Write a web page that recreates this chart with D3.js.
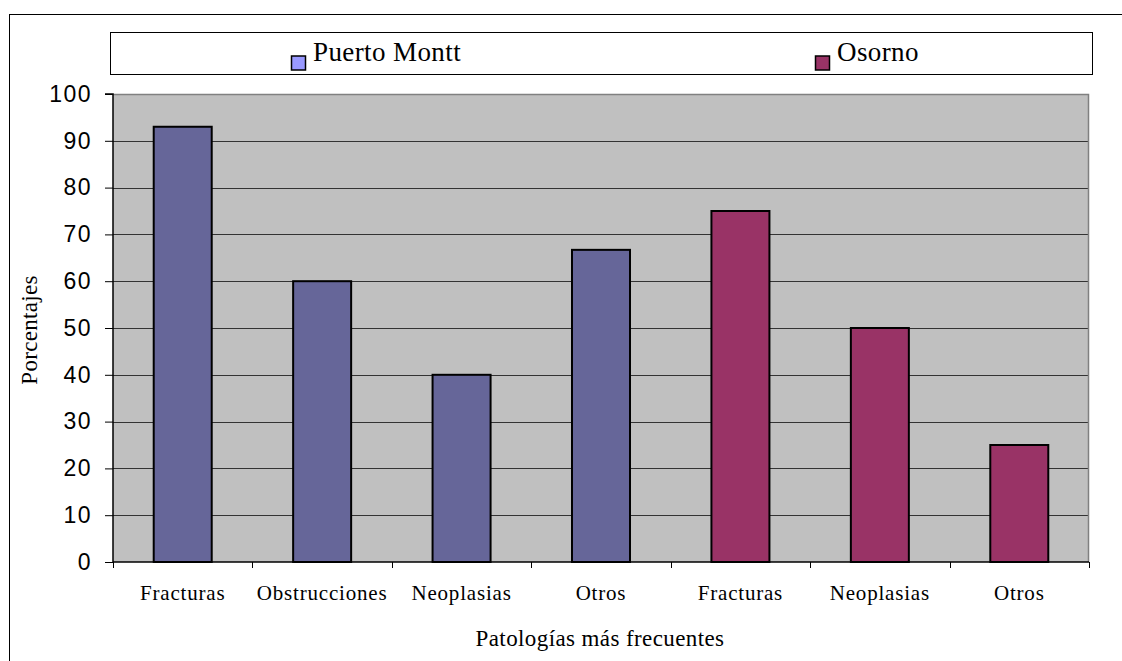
<!DOCTYPE html>
<html>
<head>
<meta charset="utf-8">
<script src="https://cdn.jsdelivr.net/npm/d3@7"></script>
<style>
  html, body { margin: 0; padding: 0; background: #fff; }
  svg { display: block; }
</style>
</head>
<body>
<svg id="chart" width="1122" height="661"></svg>
<script>
// Categories along the x axis (one band per bar)
const categories = ["Fracturas", "Obstrucciones", "Neoplasias", "Otros", "Fracturas", "Neoplasias", "Otros"];
// Which city each bar belongs to
const seriesNames = ["Puerto Montt", "Osorno"];
const barSeries = ["Puerto Montt", "Puerto Montt", "Puerto Montt", "Puerto Montt", "Osorno", "Osorno", "Osorno"];
// Percentage values per bar
const values = [93, 60, 40, 66.7, 75, 50, 25];
// Y axis ticks
const yTicks = [0, 10, 20, 30, 40, 50, 60, 70, 80, 90, 100];

const barColor = { "Puerto Montt": "#666699", "Osorno": "#993366" };
const swatchColor = { "Puerto Montt": "#9999FF", "Osorno": "#993366" };
const serif = "'Liberation Serif', 'Times New Roman', serif";
const sans = "'Liberation Sans', Arial, sans-serif";

const svg = d3.select("#chart");

// outer chart frame
svg.append("rect")
  .attr("x", 9.5).attr("y", 14.5)
  .attr("width", 1140).attr("height", 700)
  .attr("fill", "#fff").attr("stroke", "#000").attr("stroke-width", 1);

const plot = { left: 113, right: 1089, top: 94, bottom: 562 };

const x = d3.scaleBand()
  .domain(d3.range(categories.length))
  .range([plot.left, plot.right])
  .paddingInner(0.584)
  .paddingOuter(0.292);

const y = d3.scaleLinear().domain([0, 100]).range([plot.bottom, plot.top]);

// plot background
svg.append("rect")
  .attr("x", plot.left).attr("y", plot.top)
  .attr("width", plot.right - plot.left).attr("height", plot.bottom - plot.top)
  .attr("fill", "#C0C0C0");

// horizontal gridlines
svg.append("g")
  .selectAll("line")
  .data(yTicks.filter(t => t > 0 && t < 100))
  .join("line")
  .attr("x1", plot.left).attr("x2", plot.right)
  .attr("y1", d => Math.round(y(d)) + 0.5).attr("y2", d => Math.round(y(d)) + 0.5)
  .attr("stroke", "#333").attr("stroke-width", 1);

// plot border (top and right in grey)
svg.append("path")
  .attr("d", `M${plot.left},${plot.top + 0.5}H${plot.right - 0.5}V${plot.bottom}`)
  .attr("fill", "none").attr("stroke", "#808080").attr("stroke-width", 1.5);

// bars
svg.append("g")
  .selectAll("rect")
  .data(values)
  .join("rect")
  .attr("x", (d, i) => x(i))
  .attr("y", d => y(d))
  .attr("width", x.bandwidth())
  .attr("height", d => plot.bottom - y(d))
  .attr("fill", (d, i) => barColor[barSeries[i]])
  .attr("stroke", "#000").attr("stroke-width", 2);

// y axis
const yAxis = d3.axisLeft(y).tickValues(yTicks).tickSize(8).tickPadding(13).tickFormat(d3.format("d"));
const gy = svg.append("g").attr("transform", `translate(${plot.left},0)`).call(yAxis);
gy.select(".domain").attr("stroke", "#000").attr("stroke-width", 1.5).attr("d", `M-8,${plot.top}H0V${plot.bottom}`);
gy.selectAll(".tick line").attr("stroke", "#000");
gy.selectAll(".tick text")
  .attr("font-family", sans)
  .attr("font-size", 23)
  .attr("letter-spacing", 1.5)
  .attr("fill", "#000");

// x axis: ticks sit on category boundaries, labels centred under bars
const step = x.step();
const xBoundaries = d3.range(categories.length + 1).map(i => plot.left + i * step);
const gx = svg.append("g");
gx.append("line")
  .attr("x1", plot.left).attr("x2", plot.right)
  .attr("y1", plot.bottom).attr("y2", plot.bottom)
  .attr("stroke", "#000").attr("stroke-width", 1.5);
gx.selectAll("line.tick")
  .data(xBoundaries)
  .join("line")
  .attr("class", "tick")
  .attr("x1", d => Math.round(d) + 0.5).attr("x2", d => Math.round(d) + 0.5)
  .attr("y1", plot.bottom).attr("y2", plot.bottom + 6)
  .attr("stroke", "#000");
gx.selectAll("text")
  .data(categories)
  .join("text")
  .attr("x", (d, i) => x(i) + x.bandwidth() / 2)
  .attr("y", 600)
  .attr("text-anchor", "middle")
  .attr("font-family", serif)
  .attr("font-size", 21)
  .attr("letter-spacing", 0.8)
  .text(d => d);

// axis titles
svg.append("text")
  .attr("x", 600).attr("y", 646)
  .attr("text-anchor", "middle")
  .attr("font-family", serif)
  .attr("font-size", 23)
  .attr("letter-spacing", 0.4)
  .text("Patologías más frecuentes");

svg.append("text")
  .attr("transform", "translate(37,330) rotate(-90)")
  .attr("text-anchor", "middle")
  .attr("font-family", serif)
  .attr("font-size", 23)
  .attr("letter-spacing", 0.3)
  .text("Porcentajes");

// legend
const legend = svg.append("g");
legend.append("rect")
  .attr("x", 110.5).attr("y", 32.5)
  .attr("width", 982).attr("height", 42)
  .attr("fill", "#fff").attr("stroke", "#000").attr("stroke-width", 1);

const legendX = { "Puerto Montt": 291, "Osorno": 815 };
const items = legend.selectAll("g.item")
  .data(seriesNames)
  .join("g")
  .attr("class", "item")
  .attr("transform", d => `translate(${legendX[d]},0)`);
items.append("rect")
  .attr("x", 0.5).attr("y", 56)
  .attr("width", 14).attr("height", 14)
  .attr("fill", d => swatchColor[d])
  .attr("stroke", "#000").attr("stroke-width", 1.5);
items.append("text")
  .attr("x", 22).attr("y", 61)
  .attr("font-family", serif)
  .attr("font-size", 27)
  .attr("letter-spacing", 0.4)
  .text(d => d);
</script>
</body>
</html>
